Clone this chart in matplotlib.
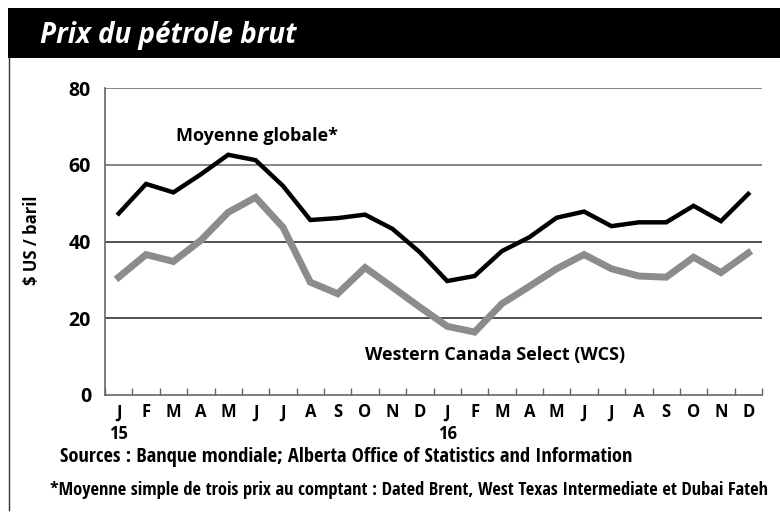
import matplotlib
matplotlib.use("Agg")
import matplotlib.pyplot as plt
from matplotlib import font_manager
from matplotlib.patches import Rectangle
from matplotlib.lines import Line2D
import numpy as np

plt.rcParams["font.family"] = ["Open Sans", "DejaVu Sans"]

months = ["J", "F", "M", "A", "M", "J", "J", "A", "S", "O", "N", "D"] * 2
years = {0: "15", 12: "16"}

# Moyenne globale (Brent, WTI, Dubai), $US / baril
global_avg = [47.3, 55.0, 52.8, 57.5, 62.6, 61.2, 54.5, 45.6, 46.1, 47.0, 43.3, 37.2,
              29.7, 31.0, 37.5, 41.1, 46.2, 47.8, 44.0, 45.0, 45.0, 49.3, 45.3, 52.4]
# Western Canada Select
wcs = [30.7, 36.6, 34.8, 40.3, 47.6, 51.5, 43.7, 29.4, 26.4, 33.2, 28.1, 22.9,
       17.9, 16.4, 23.8, 28.3, 32.9, 36.6, 32.9, 31.0, 30.7, 35.9, 31.9, 37.0]

W, H = 780, 514
fig = plt.figure(figsize=(W / 100, H / 100), dpi=100)

# header bar + left frame line
fig.patches.append(Rectangle((8 / W, 1 - 58 / H), 1, 50 / H, transform=fig.transFigure,
                             facecolor="black", edgecolor="none"))
fig.add_artist(Line2D([8.5 / W, 8.5 / W], [1 - 510 / H, 1 - 58 / H], transform=fig.transFigure,
                      color="#333333", lw=1))
fig.text(40 / W, 1 - 36 / H, "Prix du pétrole brut", color="white", fontsize=20,
         fontweight="bold", style="italic", va="center", ha="left")

ax = fig.add_axes([105 / W, 1 - 395 / H, 657 / W, 307 / H])
x = np.arange(len(months))
ax.plot(x, wcs, color="#8c8c8c", lw=5, solid_joinstyle="miter", zorder=3)
ax.plot(x, global_avg, color="black", lw=3.2, solid_joinstyle="miter", zorder=4)

ax.set_xlim(-0.5, 23.5)
ax.set_ylim(0, 80)
for v in [20, 40, 60, 80]:
    ax.axhline(v, color="#222222" if v < 60 else "#666666", lw=1.1, zorder=1)
for s in ["top", "right"]:
    ax.spines[s].set_visible(False)
ax.spines["left"].set_color("#666666")
ax.spines["bottom"].set_color("#666666")
ax.spines["left"].set_linewidth(1.2)
ax.spines["bottom"].set_linewidth(1.2)

ax.set_yticks([0, 20, 40, 60, 80])
ax.set_yticklabels(["0", "20", "40", "60", "80"], fontsize=14, fontweight="bold")
ax.tick_params(axis="y", length=0, pad=10)

ax.set_xticks(np.arange(-0.5, 24, 1))
ax.set_xticklabels([])
ax.tick_params(axis="x", direction="in", length=5, color="#666666", width=1)
for i, m in enumerate(months):
    ax.text(i, -2.2, m, ha="center", va="top", fontsize=12, fontweight="bold", clip_on=False)
for i, yl in years.items():
    ax.text(i, -7.8, yl, ha="center", va="top", fontsize=12, fontweight="bold", clip_on=False)

fig.text(32 / W, 1 - 240 / H, "$ US / baril", rotation=90, ha="center", va="center",
         fontsize=12, fontweight="bold")

ax.text(2.1, 67.5, "Moyenne globale*", fontsize=13, fontweight="bold", ha="left", va="center")
ax.text(9.0, 10.5, "Western Canada Select (WCS)", fontsize=13, fontweight="bold",
        ha="left", va="center")

# the source notes use a condensed face; take one if installed, then size to width
names = {f.name for f in font_manager.fontManager.ttflist}
narrow = next((n for n in ["Liberation Sans Narrow", "DejaVu Sans Condensed",
                           "Open Sans Condensed", "Roboto Condensed"] if n in names), "Roboto")
notes = [
    ("Sources : Banque mondiale; Alberta Office of Statistics and Information", 60, 457, 576, 14),
    ("*Moyenne simple de trois prix au comptant : Dated Brent, West Texas Intermediate et Dubai Fateh",
     50, 490, 720, 12.5),
]
renderer = fig.canvas.get_renderer()
for txt, x0, y0, width, fs in notes:
    t = fig.text(x0 / W, 1 - y0 / H, txt, family=[narrow, "DejaVu Sans"], fontsize=fs,
                 fontweight="bold", ha="left", va="center")
    w = t.get_window_extent(renderer).width
    t.set_fontsize(fs * width / w)

fig.savefig("out.png", dpi=100)
